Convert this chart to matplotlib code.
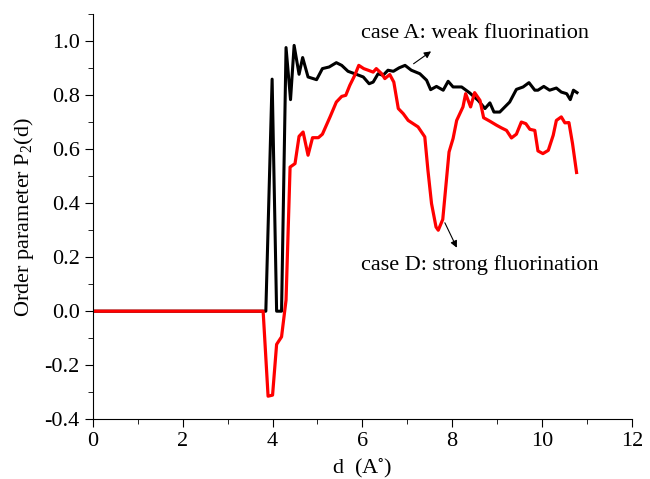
import numpy as np
from matplotlib import pyplot as plt
from matplotlib.ticker import MultipleLocator

plt.rcParams['font.family'] = ['Liberation Serif', 'DejaVu Serif']
plt.rcParams['mathtext.fontset'] = 'custom'
plt.rcParams['mathtext.rm'] = 'Liberation Serif'

# case A: weak fluorination (black)
d_A = [0, 3.85, 3.99, 4.09, 4.20, 4.30, 4.40, 4.48, 4.59, 4.67,
       4.79, 4.98, 5.11, 5.26, 5.42, 5.54, 5.68, 5.83, 6.02, 6.15,
       6.24, 6.35, 6.46, 6.57, 6.69, 6.82, 6.95, 7.09, 7.28, 7.43,
       7.52, 7.65, 7.80, 7.91, 8.02, 8.21, 8.39, 8.58, 8.73, 8.84,
       8.93, 9.06, 9.28, 9.43, 9.58, 9.71, 9.84, 9.91, 10.04, 10.17,
       10.32, 10.43, 10.55, 10.63, 10.70, 10.78]
P_A = [0, 0, 0.860, 0, 0, 0.977, 0.784, 0.985, 0.878, 0.940,
       0.868, 0.858, 0.899, 0.905, 0.921, 0.911, 0.889, 0.880, 0.868, 0.843,
       0.849, 0.880, 0.874, 0.893, 0.889, 0.902, 0.911, 0.893, 0.880, 0.856,
       0.821, 0.833, 0.819, 0.852, 0.831, 0.831, 0.809, 0.781, 0.751, 0.772,
       0.738, 0.738, 0.775, 0.822, 0.831, 0.847, 0.819, 0.819, 0.833, 0.819,
       0.827, 0.812, 0.806, 0.784, 0.819, 0.810]

# case D: strong fluorination (red)
d_D = [0, 3.79, 3.90, 4.00, 4.09, 4.20, 4.30, 4.39, 4.50, 4.59,
       4.68, 4.79, 4.89, 5.02, 5.11, 5.28, 5.42, 5.54, 5.63, 5.72,
       5.83, 5.92, 6.03, 6.13, 6.24, 6.31, 6.43, 6.50, 6.61, 6.70,
       6.80, 6.91, 7.02, 7.13, 7.24, 7.39, 7.46, 7.54, 7.64, 7.69,
       7.79, 7.93, 8.02, 8.10, 8.17, 8.24, 8.30, 8.41, 8.50, 8.62,
       8.70, 8.84, 8.99, 9.10, 9.21, 9.32, 9.43, 9.54, 9.64, 9.73,
       9.84, 9.91, 10.02, 10.14, 10.25, 10.32, 10.43, 10.51, 10.60, 10.68,
       10.77]
P_D = [0, 0, -0.315, -0.311, -0.123, -0.095, 0.041, 0.534, 0.547, 0.648,
       0.664, 0.578, 0.643, 0.643, 0.656, 0.720, 0.775, 0.796, 0.800, 0.837,
       0.874, 0.911, 0.899, 0.893, 0.886, 0.899, 0.880, 0.862, 0.877, 0.849,
       0.751, 0.732, 0.707, 0.695, 0.683, 0.646, 0.522, 0.399, 0.312, 0.300,
       0.340, 0.590, 0.640, 0.707, 0.732, 0.757, 0.806, 0.757, 0.810, 0.781,
       0.717, 0.704, 0.689, 0.679, 0.670, 0.642, 0.656, 0.701, 0.695, 0.674,
       0.670, 0.594, 0.584, 0.596, 0.652, 0.707, 0.720, 0.698, 0.699, 0.621,
       0.514]

fig = plt.figure(figsize=(6.5, 4.79), dpi=100)
ax = fig.add_axes([0.143, 0.125, 0.829, 0.845])

ax.plot(d_A, P_A, color='black', lw=2.2)
ax.plot(d_D, P_D, color='red', lw=2.3)

ax.set_xlim(0, 12)
ax.set_ylim(-0.4, 1.1)
yt = np.arange(-0.4, 1.01, 0.2)
ax.set_yticks(yt)
ax.set_yticklabels([f'{v:.1f}' for v in yt])
ax.xaxis.set_major_locator(MultipleLocator(2))
ax.xaxis.set_minor_locator(MultipleLocator(1))
ax.yaxis.set_minor_locator(MultipleLocator(0.1))
ax.spines['top'].set_visible(False)
ax.spines['right'].set_visible(False)
ax.tick_params(which='major', direction='out', length=6, labelsize=16)
ax.tick_params(which='minor', direction='out', length=3.5)

ax.set_xlabel(r'd  (A$^{\mathregular{\circ}}$)', fontsize=16)
ax.set_ylabel(r'Order parameter P$_{\mathregular{2}}$(d)', fontsize=16, labelpad=6)

ax.text(5.97, 1.03, 'case A: weak fluorination', fontsize=16, va='center')
ax.annotate('', xy=(7.58, 0.969), xytext=(7.09, 0.911),
            arrowprops=dict(arrowstyle='-|>', color='black', lw=0.8, mutation_scale=10))
ax.text(5.97, 0.17, 'case D: strong fluorination', fontsize=16, va='center')
ax.annotate('', xy=(8.13, 0.226), xytext=(7.81, 0.337),
            arrowprops=dict(arrowstyle='-|>', color='black', lw=0.8, mutation_scale=10))

plt.savefig('out.png', dpi=100)
plt.close()
